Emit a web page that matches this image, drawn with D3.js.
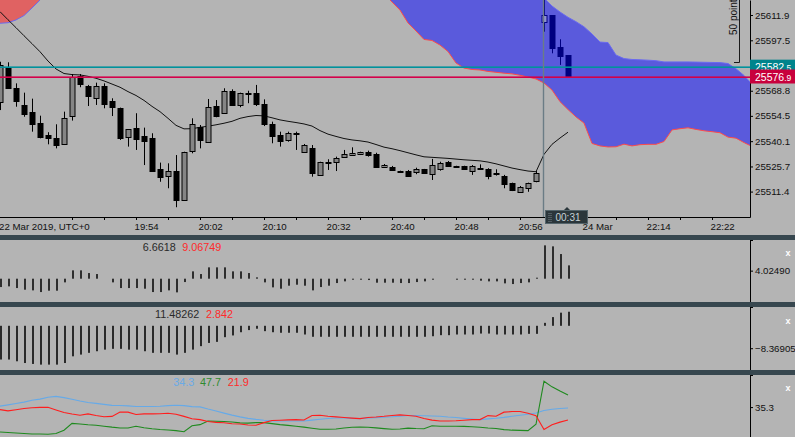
<!DOCTYPE html>
<html><head><meta charset="utf-8">
<script src="https://cdn.jsdelivr.net/npm/d3@7"></script>
<style>
html,body{margin:0;padding:0;background:#b4b4b4;overflow:hidden}
svg{display:block;font-family:"Liberation Sans",Arial,sans-serif}
</style></head><body>
<svg id="c" width="795" height="437"></svg>
<script>
// ---------------- DATA ----------------
const candleOpen  = [25562.6,25582.5,25570.2,25560.7,25556.5,25550.3,25543.6,25541.7,25538.3,25554.6,25577.2,25571.5,25564.5,25571.7,25563.0,25559.2,25542.6,25547.6,25543.0,25541.9,25524.1,25520.7,25523.0,25506.6,25534.7,25548.3,25539.8,25560.3,25556.0,25568.8,25560.7,25567.3,25567.3,25561.1,25549.9,25543.6,25540.4,25544.6,25533.8,25536.0,25520.9,25528.4,25528.4,25531.3,25532.2,25532.6,25533.8,25532.8,25525.2,25525.6,25523.0,25523.1,25522.7,25524.1,25521.3,25524.7,25528.4,25526.0,25526.0,25523.1,25525.0,25524.3,25522.0,25520.5,25516.1,25511.3,25513.3,25517.0];
const candleHigh  = [25585.3,25585.0,25573.0,25567.7,25564.3,25554.6,25545.2,25549.7,25556.9,25578.3,25578.3,25572.1,25573.4,25573.0,25564.5,25559.2,25547.0,25556.0,25547.8,25544.6,25527.9,25527.5,25532.2,25534.1,25553.1,25549.3,25564.1,25563.5,25570.2,25569.6,25567.7,25568.8,25572.1,25563.9,25551.2,25545.5,25545.5,25545.5,25538.5,25537.9,25528.4,25529.8,25531.3,25535.1,25536.6,25534.1,25534.7,25533.5,25527.1,25526.0,25523.3,25523.7,25525.0,25524.3,25530.0,25528.4,25528.8,25526.1,25526.1,25526.5,25526.9,25524.7,25524.1,25520.9,25516.5,25514.6,25516.5,25523.1];
const candleLow   = [25557.8,25569.8,25559.7,25554.0,25545.5,25541.7,25538.3,25536.0,25537.9,25551.8,25570.8,25560.1,25560.7,25558.8,25554.4,25540.8,25537.0,25535.1,25526.5,25522.7,25517.0,25513.3,25502.5,25506.2,25533.2,25536.0,25539.8,25553.7,25556.0,25560.7,25559.4,25561.7,25560.1,25548.7,25538.9,25537.0,25539.8,25535.1,25533.5,25519.9,25520.5,25523.7,25523.1,25530.7,25531.8,25532.2,25531.3,25525.0,25525.0,25523.3,25522.2,25520.3,25521.3,25521.6,25518.0,25523.3,25526.1,25525.2,25523.9,25520.9,25524.1,25518.4,25520.5,25513.3,25511.7,25510.8,25511.3,25516.7];
const candleClose = [25583.5,25570.8,25562.6,25555.6,25549.7,25542.6,25541.7,25537.5,25553.1,25576.8,25572.6,25566.0,25571.5,25561.7,25559.4,25542.3,25547.0,25541.2,25540.4,25523.3,25519.5,25523.3,25506.6,25534.1,25549.9,25540.8,25559.7,25554.6,25568.7,25560.7,25567.3,25566.6,25561.3,25549.9,25543.0,25540.4,25544.6,25544.0,25537.9,25521.8,25528.1,25527.9,25530.4,25532.8,25533.5,25533.8,25532.1,25525.2,25526.5,25523.7,25522.4,25520.5,25524.4,25521.8,25526.5,25527.9,25526.1,25525.4,25524.1,25526.0,25524.4,25520.5,25521.3,25516.1,25512.3,25513.9,25516.1,25521.8];

// overlay (navy) candles, starting at bar 68
const overlayStart = 68;
const overlayOpen  = [25608.1,25611.9,25593.5,25589.1];
const overlayHigh  = [25623.3,25611.9,25598.1,25589.1];
const overlayLow   = [25602.4,25590.1,25583.5,25576.9];
const overlayClose = [25611.9,25593.0,25588.6,25576.9];

const maValues = [25613.8,25609.2,25604.7,25600.1,25595.6,25591.0,25585.7,25581.2,25578.6,25578.0,25577.8,25577.0,25575.9,25574.4,25572.6,25570.8,25568.3,25566.1,25563.3,25559.9,25556.9,25553.1,25549.1,25547.1,25547.2,25548.0,25548.6,25549.4,25550.3,25551.4,25553.1,25554.1,25554.7,25554.5,25553.4,25552.2,25551.4,25550.7,25549.9,25548.7,25546.1,25544.1,25542.8,25541.6,25540.8,25540.3,25539.6,25538.2,25536.7,25535.8,25534.7,25533.5,25532.3,25531.2,25530.9,25530.6,25530.3,25529.9,25529.5,25529.2,25528.9,25528.2,25527.2,25526.0,25524.8,25523.9,25523.1,25522.7,25532.6,25538.3,25541.9,25545.2];

const spanA = [25655,25655,25655,25655,25655,25655,25655,25655,25655,25655,25655,
  25648,25648,25648,25648,25648,25648,25648,25648,25648,25648,
  25640,25640,25640,25640,25640,25640,25640,25640,25640,25640,
  25634,25634,25634,25634,25634,25634,25634,25634,25634,25634,
  25628,25628,25628,25628,25628,25626,25624.5,25623.9,25619.3,25614.7,
  25607.4,25602.8,25598.0,25597.4,25594.8,25591.1,25584.6,25581.7,25580.9,25580.6,
  25579.8,25579.3,25578.8,25578.4,25577.6,25576.6,25575.5,25573.2,25569.2,25562.6,
  25558.1,25553.9,25550.4,25538.8,25537.4,25536.8,25536.9,25538.4,25537.4,25538.1,
  25538.3,25538.3,25539.9,25546.5,25547.2,25547.7,25546.8,25546.0,25545.5,25544.9,
  25542.4,25541.8,25539.3,25537.1];
const spanB = [25607.2,25607.5,25609.1,25611.6,25615.9,25620.4,25625,25630,25636,25642,25648,
  25660,25660,25660,25660,25660,25660,25660,25660,25660,25660,
  25665,25665,25665,25665,25665,25665,25665,25665,25665,25665,
  25665,25665,25665,25665,25665,25665,25665,25665,25665,25665,
  25660,25660,25660,25660,25660,25660,25660,25660,25660,25660,
  25660,25660,25660,25660,25660,25650,25650,25650,25650,25650,
  25650,25650,25640,25635,25630,25627,25626.1,25621.6,25617.0,25613.6,
  25610.6,25608.1,25605.2,25601.1,25596.5,25596.2,25589.1,25587.1,25586.6,25586.4,
  25586.2,25585.9,25585.2,25585.2,25585.2,25585.2,25585.1,25585.0,25584.9,25584.8,
  25584.3,25581.3,25577.5,25572.6];

const askPrice = 25582.5;
const bidPrice = 25576.9;
const priceTicks = [25611.9,25597.5,25568.8,25554.5,25540.1,25525.7,25511.4];

const timeTickIdx = [9,13,17,21,25,29,33,37,41,45,49,53,57,61,65,69,73,77,81,85,89];
const timeLabelIdx = [17,25,33,41,49,57,65,73,81,89];
const timeLabelText = ["19:54","20:02","20:10","20:32","20:40","20:48","20:56","24 Mar","22:14","22:22"];
const dateLabel = "22 Mar 2019, UTC+0";
const crossIdx = 68;
const crossLabel = "00:31";

const histA = [-4.17,-3.83,-4.67,-5.5,-5.83,-6.67,-6.0,-6.0,-1.83,4.17,4.17,2.83,2.33,0,-1.83,-4.67,-4.67,-4.67,-5.0,-6.67,-6.67,-5.83,-6.83,-1.67,3.67,2.33,5.67,5.67,5.67,3.67,3.67,2.83,0.67,-1.83,-4.33,-5.0,-3.5,-3.0,-3.5,-5.83,-4.17,-3.5,-2.17,-1.33,-0.5,-0.5,-0.67,-2.0,-2.0,-2.0,-2.17,-2.17,-1.67,-1.33,-0.5,0,0,-0.5,-0.5,-0.5,-1.0,-1.33,-1.33,-2.33,-2.67,-2.17,-1.83,0.5,16.67,16.17,12.33,6.66];
const histATick = [4.0249];
const histALegend = ["6.6618","9.06749"];

const histB = [-12.6,-12.6,-13.25,-13.9,-14.25,-14.5,-14.5,-14.5,-13.9,-11.4,-10.75,-10.1,-9.5,-8.9,-8.6,-8.6,-8.9,-8.9,-9.5,-10.1,-10.1,-10.1,-10.75,-10.1,-8.9,-7.6,-6.4,-6.0,-4.25,-3.6,-2.4,-1.6,-1.1,-2.0,-2.4,-2.6,-2.6,-2.6,-3.25,
  -4.1,-4.1,-4.1,-4.1,-4.1,-4.1,-4.1,-4.1,-4.1,-4.1,-4.1,-4.1,-4.1,-4.1,-4.1,
  -3.9,-3.5,-3.5,-3.25,-3.25,-3.25,-2.9,-2.9,-3.25,-3.25,-3.25,-3.25,-3.0,-3.0,1.1,3.25,4.9,5.25];
const histBTick = [-8.36905];
const histBLegend = ["11.48262","2.842"];

const adxMain = [36.3,37.6,39.0,40.4,42.3,43.5,45.4,46.4,45.1,43.4,41.5,40.0,39.1,38.1,37.1,36.9,36.6,35.9,35.9,35.9,36.2,36.8,37.2,36.8,35.8,35.5,33.3,31.3,29.1,27.0,25.2,23.7,22.6,21.7,21.0,21.0,21.0,21.0,21.0,21.9,22.8,23.6,24.0,24.0,23.7,23.4,24.0,24.4,24.9,25.3,25.9,26.7,26.7,26.4,26.1,25.9,25.1,24.5,23.7,23.0,22.4,23.2,23.8,24.7,25.8,26.9,28.0,29.2,31.8,33.0,33.8,34.3];
const plusDI = [9.6,9.1,8.6,8.1,7.6,7.5,7.3,8.1,11.5,18.5,17.9,17.1,16.5,15.6,14.6,13.8,13.8,15.5,14.0,12.9,12.2,11.7,11.0,9.9,16.1,17.2,21.0,20.7,20.4,19.9,19.0,18.8,19.3,19.3,18.3,17.2,16.4,15.5,14.6,13.5,12.4,12.4,12.7,13.7,14.5,14.8,14.5,13.9,13.1,12.4,12.7,13.6,13.2,13.0,16.1,15.5,15.5,15.5,15.4,15.0,14.5,13.7,13.2,12.1,11.5,11.3,11.0,17.6,62.0,56.2,51.8,47.7];
const minusDI = [32.7,31.4,32.6,33.8,34.7,35.0,35.2,32.4,29.8,28.1,26.9,28.3,26.6,25.3,25.7,30.1,30.1,27.7,28.3,28.3,28.5,28.9,28.0,25.7,23.3,22.4,20.5,19.5,19.2,18.2,17.9,16.8,16.6,19.3,21.5,21.8,22.1,22.4,22.0,26.7,26.9,25.8,25.2,24.5,23.9,23.4,24.6,25.1,25.8,26.7,27.3,26.6,25.9,23.6,21.9,21.0,21.0,21.2,21.8,22.4,22.4,26.5,25.9,30.1,30.7,30.7,28.9,26.5,12.1,17.1,19.8,21.9];
const dmiTick = [35.3];
const dmiLegend = ["34.3","47.7","21.9"];

// ---------------- LAYOUT ----------------
const W = 795, H = 437, PR = 750;
const svg = d3.select("#c");
svg.append("rect").attr("width", W).attr("height", H).attr("fill", "#b4b4b4");
const defs = svg.append("defs");

const x = d3.scaleLinear().domain([0, 93.75]).range([0, PR]);
const y = d3.scaleLinear().domain([25496.94, 25620.44]).range([217, 0]);

defs.append("clipPath").attr("id", "mainClip").append("rect").attr("x", 0).attr("y", 0).attr("width", PR).attr("height", 217);

const main = svg.append("g").attr("clip-path", "url(#mainClip)");

// cloud
const idx = d3.range(spanA.length);
const areaBelow = arr => d3.area().x(i => x(i)).y0(2000).y1(i => y(arr[i]))(idx);
const areaAbove = arr => d3.area().x(i => x(i)).y0(-2000).y1(i => y(arr[i]))(idx);
defs.append("clipPath").attr("id", "aboveA").append("path").attr("d", areaAbove(spanA));
defs.append("clipPath").attr("id", "aboveB").append("path").attr("d", areaAbove(spanB));
main.append("path").attr("d", areaBelow(spanB)).attr("fill", "#5a5adc").attr("clip-path", "url(#aboveA)");
main.append("path").attr("d", areaBelow(spanA)).attr("fill", "#e06262").attr("clip-path", "url(#aboveB)");
main.append("path").attr("d", d3.line().x(i => x(i)).y(i => y(spanA[i]))(idx)).attr("fill", "none").attr("stroke", "#ff4a4a").attr("stroke-width", 1);
main.append("path").attr("d", d3.line().x(i => x(i)).y(i => y(spanB[i]))(idx)).attr("fill", "none").attr("stroke", "#6a6af0").attr("stroke-width", 1);

// moving average
main.append("path").attr("d", d3.line().x((d, i) => x(i)).y(d => y(d))(maValues))
  .attr("fill", "none").attr("stroke", "#111").attr("stroke-width", 1);

// candles
function drawCandles(g, O, Hh, L, C, start, col, bullFill, bearFill) {
  O.forEach((o, j) => {
    const i = start + j, cx = Math.round(x(i)) + 0.5, c = C[j];
    g.append("line").attr("x1", cx).attr("x2", cx).attr("y1", y(Hh[j])).attr("y2", y(L[j])).attr("stroke", col).attr("stroke-width", 1);
    const yt = y(Math.max(o, c)), yb = y(Math.min(o, c));
    g.append("rect").attr("x", cx - 2.5).attr("y", Math.round(yt) + 0.5).attr("width", 5)
      .attr("height", Math.max(1, Math.round(yb - yt)))
      .attr("fill", c > o ? bullFill : bearFill).attr("stroke", col).attr("stroke-width", 1);
  });
}
drawCandles(main.append("g"), candleOpen, candleHigh, candleLow, candleClose, 0, "#000", "#858585", "#000");
drawCandles(main.append("g"), overlayOpen, overlayHigh, overlayLow, overlayClose, overlayStart, "#000080", "#8e8ed0", "#000080");

// ask / bid lines
const askY = y(askPrice), bidY = y(bidPrice);
main.append("rect").attr("x", 0).attr("width", PR).attr("y", Math.round(askY) - 0.6).attr("height", 1.6).attr("fill", "#00929c");
main.append("rect").attr("x", 0).attr("width", PR).attr("y", Math.round(bidY) - 0.6).attr("height", 1.6).attr("fill", "#d4004a");

// crosshair
main.append("line").attr("x1", x(crossIdx) - 0.5).attr("x2", x(crossIdx) - 0.5).attr("y1", 0).attr("y2", 217).attr("stroke", "#6b7c85").attr("stroke-width", 1.4);

// 50 points ruler
main.append("path").attr("d", "M739.5,0V62.5H734").attr("fill", "none").attr("stroke", "#1a1a1a").attr("stroke-width", 1);
main.append("text").attr("transform", "translate(736.5,35) rotate(-90)").attr("font-size", 10).attr("fill", "#111").text("50 points");

// axes main
function styleAxis(g) {
  g.attr("font-family", "Liberation Sans, Arial, sans-serif").attr("font-size", 9.7);
  g.selectAll("path.domain").attr("stroke", "#000");
  g.selectAll(".tick line").attr("stroke", "#000");
  g.selectAll("text").attr("fill", "#111");
}
const xAxis = svg.append("g").attr("transform", "translate(0,217)")
  .call(d3.axisBottom(x).tickValues(timeTickIdx).tickSize(3).tickSizeOuter(0).tickPadding(3)
    .tickFormat(i => { const j = timeLabelIdx.indexOf(i); return j >= 0 ? timeLabelText[j] : ""; }));
xAxis.select("path.domain").attr("d", "M0,0.5H" + (PR + 0.5));
styleAxis(xAxis);
xAxis.selectAll("text").attr("text-anchor", "start").attr("x", -2);
svg.append("text").attr("x", -1).attr("y", 230).attr("font-size", 9.7).attr("fill", "#111").text(dateLabel);

const yAxis = svg.append("g").attr("transform", "translate(" + PR + ",0)")
  .call(d3.axisRight(y).tickValues(priceTicks).tickSize(3).tickPadding(2).tickSizeOuter(0).tickFormat(d3.format(".1f")));
styleAxis(yAxis);

// price boxes
function priceBox(v, fill) {
  const yy = y(v);
  svg.append("rect").attr("x", PR).attr("y", yy - 7).attr("width", W - PR).attr("height", 14).attr("fill", fill);
  const s = d3.format(".1f")(v), k = s.indexOf(".");
  const t = svg.append("text").attr("x", 755).attr("y", yy + 4).attr("fill", "#fff").attr("font-size", 10.5);
  t.append("tspan").text(s.slice(0, k));
  t.append("tspan").attr("font-size", 8.5).text(s.slice(k));
}
priceBox(askPrice, "#00848c");
priceBox(bidPrice, "#c8003c");

// crosshair time label
const cbx = x(crossIdx) + 1;
svg.append("path").attr("d", `M${cbx + 19},210 l3,-3 l3,3 z`).attr("fill", "#2b363b");
svg.append("rect").attr("x", cbx + 0.5).attr("y", 210.5).attr("width", 42).attr("height", 13).attr("fill", "#2b363b").attr("stroke", "#55656c").attr("stroke-width", 1);
for (let r = 0; r < 5; r++) {
  svg.append("line").attr("x1", cbx + 3.5).attr("x2", cbx + 7.5).attr("y1", 213.5 + r * 2).attr("y2", 213.5 + r * 2).attr("stroke", "#8a989e").attr("stroke-width", 0.8).attr("stroke-dasharray", "1,1");
}
svg.append("text").attr("x", cbx + 10.5).attr("y", 221).attr("font-size", 10).attr("fill", "#c8d2d6").text(crossLabel);

// separators
[[235, 5], [302, 5], [370, 5]].forEach(([yy, h]) => svg.append("rect").attr("x", 0).attr("y", yy).attr("width", W).attr("height", h).attr("fill", "#37474f"));

// sub panes
function subAxis(scale, ticks, fmt, top, bottom) {
  const g = svg.append("g").attr("transform", "translate(" + PR + ",0)")
    .call(d3.axisRight(scale).tickValues(ticks).tickSize(3).tickPadding(2).tickSizeOuter(0).tickFormat(fmt));
  styleAxis(g);
  g.select("path.domain").attr("d", `M0.5,${top}V${bottom}M0.5,${top + 0.5}H3`);
  return g;
}
function closeX(yy) {
  svg.append("text").attr("x", 788).attr("y", yy + 3).attr("text-anchor", "middle").attr("font-size", 9).attr("font-weight", "bold").attr("fill", "#fff").text("x");
}
function histo(scale, vals, color) {
  const g = svg.append("g");
  vals.forEach((v, i) => {
    if (v === 0) return;
    const y0 = scale(0), y1 = scale(v);
    g.append("rect").attr("x", x(i)).attr("y", Math.min(y0, y1)).attr("width", 2).attr("height", Math.abs(y1 - y0)).attr("fill", color);
  });
}

// pane 2
const yA = d3.scaleLinear().domain([-11.65, 19.35]).range([302, 240]);
histo(yA, histA, "#2e2e2e");
subAxis(yA, histATick, d3.format(".5f"), 240, 302);
svg.append("text").attr("x", 142.7).attr("y", 251.2).attr("font-size", 10.8).attr("fill", "#2a2a2a").text(histALegend[0]);
svg.append("text").attr("x", 182.3).attr("y", 251.2).attr("font-size", 10.8).attr("fill", "#ff2a2a").text(histALegend[1]);
closeX(253.3);

// pane 3
const yB = d3.scaleLinear().domain([-16.51, 7.02]).range([370, 307]);
histo(yB, histB, "#2a2a2a");
subAxis(yB, histBTick, d3.format(".5f"), 307, 370);
svg.append("text").attr("x", 155).attr("y", 318).attr("font-size", 10.8).attr("fill", "#2a2a2a").text(histBLegend[0]);
svg.append("text").attr("x", 206).attr("y", 318).attr("font-size", 10.8).attr("fill", "#ff2a2a").text(histBLegend[1]);
closeX(320.7);

// pane 4
const yC = d3.scaleLinear().domain([4.46, 68.4]).range([437, 375]);
const dmiLine = d3.line().x((d, i) => x(i)).y(d => yC(d));
svg.append("path").attr("d", dmiLine(adxMain)).attr("fill", "none").attr("stroke", "#66aae8").attr("stroke-width", 1.1);
svg.append("path").attr("d", dmiLine(plusDI)).attr("fill", "none").attr("stroke", "#1f8a1f").attr("stroke-width", 1.1);
svg.append("path").attr("d", dmiLine(minusDI)).attr("fill", "none").attr("stroke", "#ff1e1e").attr("stroke-width", 1.1);
subAxis(yC, dmiTick, d3.format(".1f"), 375, 437);
svg.append("text").attr("x", 173.3).attr("y", 386.2).attr("font-size", 10.8).attr("fill", "#6aaae6").text(dmiLegend[0]);
svg.append("text").attr("x", 200).attr("y", 386.2).attr("font-size", 10.8).attr("fill", "#2e8b2e").text(dmiLegend[1]);
svg.append("text").attr("x", 227.7).attr("y", 386.2).attr("font-size", 10.8).attr("fill", "#ff2a2a").text(dmiLegend[2]);
closeX(388.3);
</script>
</body></html>
